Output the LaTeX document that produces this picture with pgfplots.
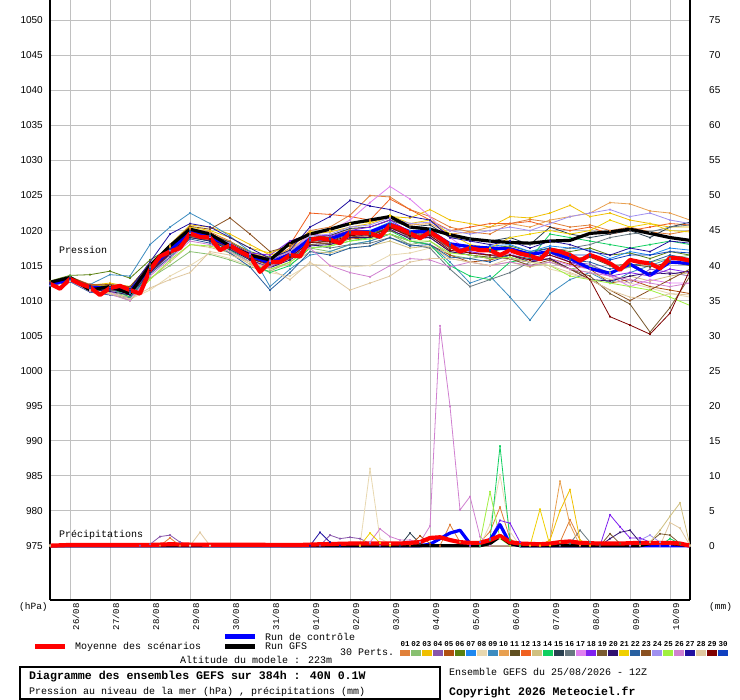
\documentclass[border=0pt]{standalone}
\usepackage{fontspec}
\setmainfont{Liberation Mono}
\newfontfamily\sansf{Liberation Sans}
\usepackage{pgfplots}
\pgfplotsset{compat=1.18}
\newcommand\fs[1]{\fontsize{#1bp}{#1bp}\selectfont}
\definecolor{c01}{HTML}{E0803A}
\definecolor{c02}{HTML}{88C070}
\definecolor{c03}{HTML}{F0C000}
\definecolor{c04}{HTML}{8855AA}
\definecolor{c05}{HTML}{B05010}
\definecolor{c06}{HTML}{5A8010}
\definecolor{c07}{HTML}{1E88F0}
\definecolor{c08}{HTML}{E8D8B0}
\definecolor{c09}{HTML}{3C8CC0}
\definecolor{c10}{HTML}{E8A050}
\definecolor{c11}{HTML}{604F20}
\definecolor{c12}{HTML}{F06020}
\definecolor{c13}{HTML}{D0C080}
\definecolor{c14}{HTML}{10D060}
\definecolor{c15}{HTML}{2A4050}
\definecolor{c16}{HTML}{687880}
\definecolor{c17}{HTML}{E080F0}
\definecolor{c18}{HTML}{8020F0}
\definecolor{c19}{HTML}{7A5A30}
\definecolor{c20}{HTML}{301070}
\definecolor{c21}{HTML}{F0D000}
\definecolor{c22}{HTML}{2860A0}
\definecolor{c23}{HTML}{8A5020}
\definecolor{c24}{HTML}{A090F0}
\definecolor{c25}{HTML}{A0F040}
\definecolor{c26}{HTML}{D080D0}
\definecolor{c27}{HTML}{2010A0}
\definecolor{c28}{HTML}{E0C8A0}
\definecolor{c29}{HTML}{800000}
\definecolor{c30}{HTML}{1040C0}
\definecolor{gridc}{HTML}{C0C0C0}
\pgfplotsset{
  pert/.style={line width=0.8bp, mark=*, mark size=0.7bp, line join=round},
  thickb/.style={line width=3.2bp, line join=round},
}
\begin{document}
\begin{tikzpicture}[x=1bp,y=1bp]
\useasboundingbox (0,0) rectangle (740,700);
\fill[white] (0,0) rectangle (740,700);
\begin{axis}[
  at={(50bp,100bp)}, anchor=south west, scale only axis,
  width=640bp, height=600bp,
  xmin=0, xmax=384, ymin=967.24, ymax=1052.93,
  axis x line*=bottom, axis y line*=left,
  axis line style={-, black, line width=1.3bp},
  xtick={12,36,60,84,108,132,156,180,204,228,252,276,300,324,348,372},
  xticklabels={26/08,27/08,28/08,29/08,30/08,31/08,01/09,02/09,03/09,04/09,05/09,06/09,07/09,08/09,09/09,10/09},
  ytick={975,980,985,990,995,1000,1005,1010,1015,1020,1025,1030,1035,1040,1045,1050},
  yticklabels={975,980,985,990,995,1000,1005,1010,1015,1020,1025,1030,1035,1040,1045,1050},
  major tick length=0pt,
  grid=major, major grid style={draw=gridc, line width=1bp},
  xticklabel style={font=\fs{9}, rotate=90, anchor=north east, inner xsep=3bp, inner ysep=2.5bp},
  yticklabel style={font=\sansf\fs{10}, anchor=east, inner sep=0pt, xshift=-7bp},
  /pgf/number format/assume math mode=true,
]
\addplot[pert,c01] coordinates {(0,1012.6)(12,1013.4)(24,1012.0)(36,1012.3)(48,1011.8)(60,1015.0)(72,1017.8)(84,1020.3)(96,1019.8)(108,1018.5)(120,1016.8)(132,1015.9)(144,1017.5)(156,1020.0)(168,1020.5)(180,1022.2)(192,1025.0)(204,1024.8)(216,1023.0)(228,1022.0)(240,1020.5)(252,1019.8)(264,1019.5)(276,1021.0)(288,1021.6)(300,1021.2)(312,1020.5)(324,1020.8)(336,1020.0)(348,1020.5)(360,1019.8)(372,1019.5)(384,1020.0)};
\addplot[pert,c02] coordinates {(0,1012.3)(12,1013.0)(24,1011.5)(36,1011.2)(48,1010.6)(60,1013.2)(72,1015.0)(84,1017.0)(96,1016.6)(108,1015.8)(120,1014.8)(132,1014.2)(144,1015.5)(156,1017.5)(168,1017.0)(180,1018.0)(192,1018.5)(204,1019.5)(216,1018.0)(228,1018.5)(240,1016.5)(252,1016.0)(264,1016.5)(276,1016.0)(288,1015.0)(300,1015.5)(312,1014.5)(324,1015.0)(336,1014.0)(348,1014.8)(360,1015.5)(372,1016.0)(384,1016.5)};
\addplot[pert,c03] coordinates {(0,1012.5)(12,1013.3)(24,1012.2)(36,1012.5)(48,1012.0)(60,1015.2)(72,1018.0)(84,1020.8)(96,1020.5)(108,1019.5)(120,1018.0)(132,1016.5)(144,1017.2)(156,1019.5)(168,1019.8)(180,1020.5)(192,1021.0)(204,1022.0)(216,1021.8)(228,1023.0)(240,1021.5)(252,1021.0)(264,1020.5)(276,1022.0)(288,1021.8)(300,1022.5)(312,1023.6)(324,1022.0)(336,1022.5)(348,1021.5)(360,1021.0)(372,1020.5)(384,1020.5)};
\addplot[pert,c04] coordinates {(0,1012.4)(12,1013.0)(24,1011.6)(36,1011.4)(48,1011.2)(60,1014.0)(72,1016.8)(84,1019.2)(96,1018.5)(108,1017.5)(120,1015.8)(132,1014.8)(144,1016.0)(156,1018.0)(168,1018.2)(180,1019.0)(192,1019.5)(204,1020.5)(216,1019.0)(228,1019.2)(240,1017.5)(252,1016.8)(264,1016.5)(276,1016.0)(288,1015.5)(300,1016.8)(312,1015.5)(324,1015.2)(336,1013.8)(348,1012.5)(360,1014.5)(372,1014.0)(384,1013.5)};
\addplot[pert,c05] coordinates {(0,1012.5)(12,1013.1)(24,1012.0)(36,1011.9)(48,1011.6)(60,1014.2)(72,1016.5)(84,1019.0)(96,1018.6)(108,1017.5)(120,1016.0)(132,1015.5)(144,1016.8)(156,1018.5)(168,1018.0)(180,1018.8)(192,1019.0)(204,1019.5)(216,1018.5)(228,1018.0)(240,1016.5)(252,1015.5)(264,1015.8)(276,1016.5)(288,1015.8)(300,1016.0)(312,1015.2)(324,1014.5)(336,1012.5)(348,1013.0)(360,1012.0)(372,1011.5)(384,1011.0)};
\addplot[pert,c06] coordinates {(0,1012.8)(12,1013.6)(24,1013.7)(36,1014.2)(48,1013.2)(60,1015.8)(72,1017.5)(84,1019.5)(96,1019.2)(108,1018.4)(120,1017.0)(132,1016.2)(144,1017.0)(156,1018.8)(168,1019.0)(180,1019.8)(192,1019.5)(204,1020.5)(216,1019.5)(228,1019.8)(240,1018.0)(252,1017.8)(264,1017.5)(276,1017.8)(288,1017.0)(300,1017.5)(312,1017.0)(324,1017.5)(336,1016.5)(348,1016.8)(360,1016.0)(372,1017.0)(384,1016.5)};
\addplot[pert,c07] coordinates {(0,1012.2)(12,1012.9)(24,1011.7)(36,1011.5)(48,1011.0)(60,1014.6)(72,1017.2)(84,1019.8)(96,1019.4)(108,1018.0)(120,1016.6)(132,1015.3)(144,1016.2)(156,1018.5)(168,1018.8)(180,1020.0)(192,1020.0)(204,1021.2)(216,1020.0)(228,1020.2)(240,1018.2)(252,1017.5)(264,1017.8)(276,1018.0)(288,1017.0)(300,1017.8)(312,1017.5)(324,1017.2)(336,1016.0)(348,1017.0)(360,1016.5)(372,1017.5)(384,1017.2)};
\addplot[pert,c08] coordinates {(0,1012.3)(12,1012.8)(24,1011.4)(36,1011.2)(48,1010.2)(60,1011.5)(72,1013.5)(84,1015.0)(96,1016.8)(108,1016.0)(120,1015.0)(132,1014.0)(144,1013.5)(156,1015.2)(168,1015.0)(180,1014.8)(192,1015.0)(204,1016.5)(216,1016.8)(228,1017.5)(240,1016.8)(252,1016.5)(264,1016.0)(276,1016.5)(288,1016.0)(300,1014.5)(312,1013.8)(324,1013.0)(336,1012.8)(348,1012.5)(360,1011.8)(372,1011.0)(384,1010.5)};
\addplot[pert,c09] coordinates {(0,1012.5)(12,1013.2)(24,1012.3)(36,1013.7)(48,1013.5)(60,1018.0)(72,1020.5)(84,1022.5)(96,1021.0)(108,1019.2)(120,1017.0)(132,1012.0)(144,1014.5)(156,1016.5)(168,1017.0)(180,1018.0)(192,1018.5)(204,1019.5)(216,1018.5)(228,1018.0)(240,1015.5)(252,1012.5)(264,1013.5)(276,1010.5)(288,1007.2)(300,1011.0)(312,1013.0)(324,1014.0)(336,1012.5)(348,1014.0)(360,1015.0)(372,1016.0)(384,1015.5)};
\addplot[pert,c10] coordinates {(0,1012.4)(12,1013.2)(24,1012.1)(36,1012.0)(48,1011.8)(60,1014.8)(72,1017.5)(84,1020.0)(96,1019.6)(108,1018.4)(120,1016.8)(132,1016.0)(144,1017.0)(156,1019.0)(168,1019.3)(180,1020.2)(192,1020.5)(204,1021.5)(216,1020.8)(228,1021.0)(240,1019.5)(252,1019.8)(264,1020.5)(276,1021.0)(288,1020.5)(300,1021.5)(312,1022.0)(324,1022.5)(336,1024.0)(348,1023.8)(360,1022.8)(372,1022.5)(384,1021.5)};
\addplot[pert,c11] coordinates {(0,1012.3)(12,1013.0)(24,1011.8)(36,1011.6)(48,1011.4)(60,1014.2)(72,1016.8)(84,1019.3)(96,1018.8)(108,1017.6)(120,1016.0)(132,1015.2)(144,1016.3)(156,1018.3)(168,1018.5)(180,1019.5)(192,1019.3)(204,1020.5)(216,1019.3)(228,1019.5)(240,1017.8)(252,1017.2)(264,1017.0)(276,1017.5)(288,1016.5)(300,1017.0)(312,1016.0)(324,1016.2)(336,1015.0)(348,1015.2)(360,1014.8)(372,1015.5)(384,1015.0)};
\addplot[pert,c12] coordinates {(0,1012.6)(12,1013.4)(24,1012.3)(36,1012.2)(48,1011.9)(60,1015.0)(72,1017.6)(84,1020.2)(96,1019.5)(108,1018.2)(120,1016.7)(132,1016.0)(144,1018.0)(156,1022.5)(168,1022.3)(180,1022.0)(192,1021.5)(204,1024.5)(216,1023.0)(228,1021.5)(240,1020.0)(252,1020.5)(264,1021.0)(276,1021.0)(288,1021.3)(300,1020.5)(312,1020.0)(324,1020.5)(336,1019.5)(348,1020.0)(360,1020.5)(372,1021.0)(384,1020.8)};
\addplot[pert,c13] coordinates {(0,1012.2)(12,1012.8)(24,1011.5)(36,1011.0)(48,1010.5)(60,1013.0)(72,1015.5)(84,1018.0)(96,1017.6)(108,1016.8)(120,1015.2)(132,1014.5)(144,1015.2)(156,1017.0)(168,1016.8)(180,1017.5)(192,1017.8)(204,1018.5)(216,1017.5)(228,1017.8)(240,1016.0)(252,1015.5)(264,1015.0)(276,1015.5)(288,1014.8)(300,1015.5)(312,1014.5)(324,1014.0)(336,1013.0)(348,1013.5)(360,1012.8)(372,1013.5)(384,1014.0)};
\addplot[pert,c14] coordinates {(0,1012.5)(12,1013.5)(24,1012.0)(36,1011.8)(48,1010.5)(60,1014.0)(72,1016.5)(84,1019.0)(96,1018.5)(108,1017.2)(120,1015.5)(132,1014.0)(144,1015.0)(156,1017.5)(168,1017.8)(180,1018.5)(192,1019.0)(204,1020.0)(216,1018.5)(228,1018.0)(240,1015.0)(252,1013.5)(264,1013.0)(276,1015.5)(288,1016.0)(300,1019.5)(312,1019.0)(324,1018.5)(336,1018.0)(348,1017.5)(360,1018.0)(372,1018.5)(384,1018.0)};
\addplot[pert,c15] coordinates {(0,1012.4)(12,1013.1)(24,1012.0)(36,1012.1)(48,1011.8)(60,1015.0)(72,1017.4)(84,1020.0)(96,1019.5)(108,1018.3)(120,1016.7)(132,1015.8)(144,1016.8)(156,1019.0)(168,1019.3)(180,1020.3)(192,1020.5)(204,1021.5)(216,1020.5)(228,1020.8)(240,1019.0)(252,1018.8)(264,1018.5)(276,1019.0)(288,1018.0)(300,1020.5)(312,1019.5)(324,1019.0)(336,1019.5)(348,1020.0)(360,1019.0)(372,1020.5)(384,1021.2)};
\addplot[pert,c16] coordinates {(0,1012.4)(12,1013.0)(24,1011.9)(36,1011.7)(48,1011.3)(60,1014.3)(72,1016.9)(84,1019.4)(96,1018.9)(108,1017.7)(120,1016.2)(132,1015.3)(144,1016.3)(156,1018.0)(168,1017.5)(180,1018.0)(192,1018.2)(204,1019.0)(216,1018.0)(228,1017.5)(240,1014.5)(252,1012.0)(264,1013.0)(276,1014.0)(288,1015.5)(300,1017.0)(312,1017.5)(324,1018.0)(336,1019.0)(348,1019.5)(360,1019.8)(372,1020.5)(384,1020.8)};
\addplot[pert,c17] coordinates {(0,1012.3)(12,1013.0)(24,1011.7)(36,1011.3)(48,1010.0)(60,1013.8)(72,1016.5)(84,1019.5)(96,1019.0)(108,1018.0)(120,1016.5)(132,1015.5)(144,1017.0)(156,1019.5)(168,1020.0)(180,1021.5)(192,1024.0)(204,1026.3)(216,1024.5)(228,1022.0)(240,1019.0)(252,1017.0)(264,1016.5)(276,1016.8)(288,1015.5)(300,1016.0)(312,1015.0)(324,1014.5)(336,1013.5)(348,1012.0)(360,1013.0)(372,1012.5)(384,1012.5)};
\addplot[pert,c18] coordinates {(0,1012.5)(12,1013.2)(24,1011.8)(36,1011.6)(48,1011.2)(60,1014.5)(72,1017.2)(84,1019.8)(96,1019.2)(108,1018.0)(120,1016.8)(132,1016.5)(144,1018.5)(156,1019.5)(168,1019.2)(180,1020.0)(192,1020.5)(204,1021.5)(216,1019.8)(228,1019.5)(240,1018.0)(252,1017.0)(264,1016.5)(276,1016.0)(288,1015.5)(300,1016.5)(312,1015.5)(324,1014.5)(336,1013.5)(348,1014.0)(360,1013.5)(372,1014.5)(384,1014.0)};
\addplot[pert,c19] coordinates {(0,1012.4)(12,1013.1)(24,1011.8)(36,1011.5)(48,1011.2)(60,1014.0)(72,1016.6)(84,1019.2)(96,1018.7)(108,1017.5)(120,1016.0)(132,1015.0)(144,1016.0)(156,1018.0)(168,1018.2)(180,1019.2)(192,1019.0)(204,1020.0)(216,1019.0)(228,1019.0)(240,1017.0)(252,1016.5)(264,1016.2)(276,1016.0)(288,1015.5)(300,1016.0)(312,1014.5)(324,1013.5)(336,1011.0)(348,1009.5)(360,1005.5)(372,1009.0)(384,1013.5)};
\addplot[pert,c20] coordinates {(0,1012.3)(12,1012.9)(24,1011.6)(36,1011.3)(48,1010.8)(60,1014.0)(72,1016.7)(84,1019.0)(96,1018.5)(108,1017.3)(120,1015.8)(132,1014.7)(144,1015.8)(156,1017.8)(168,1018.0)(180,1019.0)(192,1019.0)(204,1020.2)(216,1018.8)(228,1019.0)(240,1017.0)(252,1016.5)(264,1016.0)(276,1016.5)(288,1015.5)(300,1016.0)(312,1014.5)(324,1013.0)(336,1012.8)(348,1013.5)(360,1014.0)(372,1013.8)(384,1014.2)};
\addplot[pert,c21] coordinates {(0,1012.6)(12,1013.3)(24,1012.1)(36,1012.2)(48,1011.9)(60,1015.2)(72,1017.8)(84,1020.5)(96,1020.0)(108,1019.0)(120,1017.5)(132,1016.8)(144,1017.8)(156,1019.8)(168,1020.0)(180,1021.0)(192,1021.2)(204,1022.2)(216,1021.0)(228,1021.5)(240,1019.5)(252,1018.0)(264,1017.5)(276,1019.0)(288,1019.5)(300,1020.0)(312,1019.5)(324,1020.0)(336,1021.5)(348,1020.5)(360,1021.0)(372,1020.0)(384,1019.8)};
\addplot[pert,c22] coordinates {(0,1012.1)(12,1012.7)(24,1011.2)(36,1010.8)(48,1010.4)(60,1013.8)(72,1016.2)(84,1018.8)(96,1018.2)(108,1016.8)(120,1014.8)(132,1011.5)(144,1014.0)(156,1017.0)(168,1016.5)(180,1017.5)(192,1017.8)(204,1019.0)(216,1017.8)(228,1018.0)(240,1016.2)(252,1016.0)(264,1015.5)(276,1016.5)(288,1016.0)(300,1016.8)(312,1015.8)(324,1015.5)(336,1014.5)(348,1015.0)(360,1015.5)(372,1016.5)(384,1016.0)};
\addplot[pert,c23] coordinates {(0,1012.7)(12,1013.4)(24,1012.2)(36,1012.3)(48,1012.0)(60,1015.2)(72,1018.0)(84,1020.6)(96,1020.2)(108,1021.8)(120,1019.5)(132,1017.0)(144,1017.8)(156,1019.5)(168,1019.0)(180,1020.0)(192,1019.8)(204,1020.8)(216,1019.5)(228,1019.5)(240,1017.5)(252,1016.8)(264,1016.5)(276,1016.0)(288,1015.0)(300,1015.8)(312,1014.5)(324,1013.0)(336,1011.5)(348,1010.0)(360,1011.5)(372,1013.0)(384,1014.5)};
\addplot[pert,c24] coordinates {(0,1012.4)(12,1013.2)(24,1012.0)(36,1011.9)(48,1011.7)(60,1014.6)(72,1017.2)(84,1019.7)(96,1019.2)(108,1018.2)(120,1016.6)(132,1015.8)(144,1017.0)(156,1019.2)(168,1019.5)(180,1020.5)(192,1020.8)(204,1021.8)(216,1021.0)(228,1021.2)(240,1020.0)(252,1019.5)(264,1020.0)(276,1020.5)(288,1020.0)(300,1021.0)(312,1022.0)(324,1022.5)(336,1023.0)(348,1022.0)(360,1022.5)(372,1021.5)(384,1021.0)};
\addplot[pert,c25] coordinates {(0,1012.3)(12,1012.9)(24,1011.4)(36,1011.0)(48,1010.0)(60,1013.0)(72,1015.8)(84,1018.0)(96,1017.8)(108,1017.0)(120,1015.5)(132,1014.5)(144,1015.5)(156,1017.5)(168,1017.8)(180,1018.5)(192,1018.8)(204,1019.5)(216,1018.5)(228,1018.5)(240,1016.8)(252,1016.5)(264,1016.0)(276,1016.2)(288,1015.5)(300,1015.0)(312,1013.5)(324,1013.0)(336,1012.5)(348,1012.0)(360,1011.5)(372,1010.5)(384,1009.3)};
\addplot[pert,c26] coordinates {(0,1012.2)(12,1012.8)(24,1011.3)(36,1010.9)(48,1010.0)(60,1013.5)(72,1016.0)(84,1018.5)(96,1018.0)(108,1017.0)(120,1015.5)(132,1014.8)(144,1016.8)(156,1017.5)(168,1015.0)(180,1014.0)(192,1013.4)(204,1015.0)(216,1016.0)(228,1015.8)(240,1014.8)(252,1015.5)(264,1015.0)(276,1015.5)(288,1015.0)(300,1015.5)(312,1014.5)(324,1014.0)(336,1013.5)(348,1013.0)(360,1012.5)(372,1012.0)(384,1012.5)};
\addplot[pert,c27] coordinates {(0,1012.5)(12,1013.2)(24,1012.1)(36,1012.0)(48,1011.7)(60,1015.5)(72,1019.5)(84,1021.0)(96,1020.5)(108,1019.0)(120,1017.5)(132,1016.0)(144,1017.2)(156,1020.5)(168,1022.0)(180,1024.3)(192,1023.5)(204,1023.0)(216,1022.0)(228,1021.5)(240,1019.0)(252,1018.5)(264,1018.0)(276,1018.5)(288,1017.5)(300,1018.5)(312,1018.0)(324,1017.0)(336,1016.5)(348,1017.5)(360,1017.0)(372,1018.5)(384,1018.2)};
\addplot[pert,c28] coordinates {(0,1012.3)(12,1012.8)(24,1011.5)(36,1011.0)(48,1010.3)(60,1011.8)(72,1013.0)(84,1014.0)(96,1017.0)(108,1016.5)(120,1015.5)(132,1014.5)(144,1013.0)(156,1015.5)(168,1013.5)(180,1011.5)(192,1012.5)(204,1013.5)(216,1015.5)(228,1016.0)(240,1016.0)(252,1015.5)(264,1015.0)(276,1016.0)(288,1015.5)(300,1015.0)(312,1014.0)(324,1013.0)(336,1011.5)(348,1010.5)(360,1010.2)(372,1011.0)(384,1010.8)};
\addplot[pert,c29] coordinates {(0,1012.4)(12,1013.1)(24,1011.9)(36,1011.7)(48,1011.4)(60,1014.3)(72,1016.8)(84,1019.4)(96,1018.8)(108,1017.6)(120,1016.0)(132,1015.2)(144,1016.2)(156,1018.3)(168,1018.4)(180,1019.3)(192,1019.2)(204,1020.4)(216,1019.2)(228,1019.3)(240,1017.2)(252,1016.8)(264,1016.5)(276,1016.5)(288,1015.8)(300,1016.5)(312,1015.5)(324,1013.0)(336,1007.7)(348,1006.5)(360,1005.2)(372,1008.2)(384,1014.4)};
\addplot[pert,c30] coordinates {(0,1012.3)(12,1013.0)(24,1011.8)(36,1011.6)(48,1011.3)(60,1014.6)(72,1017.3)(84,1019.8)(96,1019.2)(108,1018.0)(120,1016.4)(132,1015.4)(144,1016.5)(156,1018.7)(168,1018.8)(180,1019.8)(192,1019.6)(204,1020.9)(216,1019.8)(228,1020.0)(240,1018.0)(252,1017.5)(264,1017.2)(276,1017.5)(288,1016.8)(300,1017.5)(312,1016.5)(324,1016.5)(336,1015.8)(348,1016.5)(360,1016.5)(372,1017.0)(384,1016.8)};
% control run
\addplot[thickb,blue] coordinates {(0,1012.3)(12,1013.0)(24,1011.8)(36,1011.9)(48,1011.3)(60,1014.6)(72,1017.2)(84,1019.8)(96,1019.1)(108,1017.8)(120,1016.4)(132,1015.4)(144,1016.6)(156,1018.8)(168,1018.8)(180,1019.8)(192,1019.8)(204,1020.9)(216,1019.8)(228,1019.9)(240,1018.1)(252,1017.7)(264,1017.5)(276,1017.4)(288,1016.6)(300,1017.0)(312,1016.0)(324,1014.6)(336,1013.9)(348,1015.2)(360,1013.6)(372,1015.5)(384,1015.3)};
% GFS run
\addplot[thickb,black] coordinates {(0,1012.6)(12,1013.3)(24,1011.5)(36,1012.0)(48,1011.0)(60,1015.0)(72,1017.8)(84,1020.2)(96,1019.5)(108,1017.8)(120,1016.5)(132,1015.8)(144,1018.2)(156,1019.5)(168,1020.2)(180,1021.0)(192,1021.5)(204,1022.0)(216,1020.5)(228,1020.2)(240,1019.4)(252,1018.8)(264,1018.5)(276,1018.3)(288,1018.2)(300,1018.5)(312,1018.6)(324,1019.6)(336,1019.8)(348,1020.2)(360,1019.6)(372,1019.0)(384,1018.6)};
% ensemble mean
\addplot[line width=4.2bp,red,line join=round] coordinates {(0,1012.4)(6,1011.7)(12,1013.1)(18,1012.4)(24,1011.9)(30,1010.8)(36,1011.8)(42,1012.1)(48,1011.5)(54,1011.0)(60,1014.4)(66,1016.3)(72,1017.0)(78,1017.5)(84,1019.6)(90,1019.1)(96,1019.0)(102,1017.2)(108,1017.9)(114,1017.0)(120,1016.3)(126,1014.1)(132,1015.5)(138,1015.5)(144,1016.5)(150,1016.3)(156,1018.7)(162,1018.9)(168,1018.7)(174,1018.2)(180,1019.7)(186,1019.7)(192,1019.6)(198,1019.1)(204,1020.8)(210,1020.3)(216,1019.6)(222,1018.9)(228,1019.8)(234,1018.9)(240,1017.9)(246,1017.0)(252,1017.5)(258,1017.2)(264,1017.2)(270,1016.5)(276,1017.2)(282,1016.7)(288,1016.4)(294,1015.9)(300,1017.3)(306,1017.0)(312,1016.5)(318,1015.7)(324,1016.5)(330,1016.0)(336,1015.3)(342,1014.4)(348,1015.8)(354,1015.5)(360,1015.3)(366,1014.6)(372,1016.1)(378,1016.0)(384,1015.7)};
\draw[black, line width=1bp] (axis cs:0,1016.07) -- ++(-2.5bp,0);
\end{axis}
\begin{axis}[
  at={(50bp,100bp)}, anchor=south west, scale only axis,
  width=640bp, height=600bp,
  xmin=0, xmax=384, ymin=-7.76, ymax=77.93,
  axis x line=none, axis y line*=right,
  axis line style={-, black, line width=1.3bp},
  xtick=\empty,
  ytick={0,5,10,15,20,25,30,35,40,45,50,55,60,65,70,75},
  yticklabels={0,5,10,15,20,25,30,35,40,45,50,55,60,65,70,75},
  major tick length=0pt,
  yticklabel style={font=\sansf\fs{10}, anchor=west, inner sep=0pt, xshift=19bp},
  /pgf/number format/assume math mode=true,
]
\addplot[pert,c04] coordinates {(0,0)(54,0)(60,0.2)(66,1.3)(72,1.5)(78,0.5)(84,0)(162,0)(168,1.5)(174,1.0)(180,1.2)(186,1.0)(192,0.3)(198,0)(384,0)};
\addplot[pert,c01] coordinates {(0,0)(66,0)(72,1.1)(78,0)(234,0)(240,3.0)(246,0.5)(252,0)(258,0.5)(264,2.0)(270,5.5)(276,1.0)(282,0)(306,0.5)(312,3.7)(318,0.8)(324,0)(384,0)};
\addplot[pert,c28] coordinates {(0,0)(84,0)(90,1.9)(96,0)(366,0)(372,3.3)(378,2.5)(384,0)};
\addplot[pert,c08] coordinates {(0,0)(186,0)(192,11.0)(198,1.0)(204,0.3)(258,0)(264,3.0)(270,10.1)(276,2.0)(282,0)(384,0)};
\addplot[pert,c27] coordinates {(0,0)(156,0)(162,1.9)(168,0.5)(174,0)(384,0)};
\addplot[pert,c26] coordinates {(0,0)(186,0)(192,0.5)(198,2.4)(204,1.3)(210,0.8)(216,0.8)(222,0.5)(228,2.8)(234,31.4)(240,19.9)(246,5.1)(252,7.0)(258,1.3)(264,0)(384,0)};
\addplot[pert,c14] coordinates {(0,0)(258,0)(264,0.8)(270,14.2)(276,0.8)(282,0)(366,0)(372,1.0)(378,0.3)(384,0)};
\addplot[pert,c25] coordinates {(0,0)(252,0)(258,0.5)(264,7.7)(270,1.0)(276,0)(384,0)};
\addplot[pert,c18] coordinates {(0,0)(252,0)(258,0.5)(264,1.0)(270,3.6)(276,3.2)(282,0.5)(288,0)(330,0)(336,4.4)(342,2.7)(348,1.1)(354,1.1)(360,0.5)(366,0)(384,0)};
\addplot[pert,c15] coordinates {(0,0)(210,0)(216,1.8)(222,0.3)(228,0)(384,0)};
\addplot[pert,c16] coordinates {(0,0)(306,0)(312,0.3)(318,2.2)(324,0.5)(330,0)(384,0)};
\addplot[pert,c05] coordinates {(0,0)(216,0)(222,1.4)(228,0.3)(234,0)(384,0)};
\addplot[pert,c21] coordinates {(0,0)(186,0)(192,1.8)(198,0.4)(204,0)(288,0)(294,5.2)(300,0)(384,0)};
\addplot[pert,c10] coordinates {(0,0)(294,0)(300,0.8)(306,9.2)(312,3.0)(318,0)(384,0)};
\addplot[pert,c03] coordinates {(0,0)(294,0)(300,0.8)(306,5.0)(312,8.0)(318,0.8)(324,0)(384,0)};
\addplot[pert,c20] coordinates {(0,0)(330,0)(336,1.0)(342,1.9)(348,2.2)(354,0.5)(360,0)(384,0)};
\addplot[pert,c19] coordinates {(0,0)(330,0)(336,1.7)(342,0.3)(354,0.3)(360,0.5)(366,1.7)(372,1.5)(378,0.3)(384,0)};
\addplot[pert,c24] coordinates {(0,0)(348,0)(354,0.8)(360,1.5)(366,0.5)(372,0)(384,0)};
\addplot[pert,c13] coordinates {(0,0)(354,0)(360,0.5)(366,2.2)(372,4.2)(378,6.1)(384,0)};
\addplot[thickb,blue] coordinates {(0,0)(222,0)(228,0.2)(234,1.0)(240,1.8)(246,2.2)(252,0.3)(258,0)(264,0.8)(270,3.0)(276,0.3)(282,0)(384,0)};
\addplot[thickb,black] coordinates {(0,0)(258,0)(264,0.3)(270,1.3)(276,0.3)(282,0)(354,0)(360,0.3)(372,0.3)(384,0)};
\addplot[line width=4.2bp,red,line join=round] coordinates {(0,0)(12,0.1)(60,0.1)(72,0.2)(84,0.15)(150,0.1)(162,0.2)(180,0.3)(192,0.3)(210,0.3)(222,0.5)(228,1.1)(234,1.2)(240,0.8)(246,0.5)(252,0.4)(258,0.4)(264,0.8)(270,1.4)(276,0.5)(282,0.3)(294,0.2)(300,0.3)(306,0.5)(312,0.6)(318,0.4)(330,0.3)(342,0.3)(354,0.4)(366,0.4)(372,0.4)(378,0.3)(384,0)};
\end{axis}
% annotations
\node[anchor=west, inner sep=0pt, font=\fs{10}] at (59,450) {Pression};
\node[anchor=west, inner sep=0pt, font=\fs{10}] at (59,165) {Précipitations};
\node[anchor=west, inner sep=0pt, font=\fs{9.5}] at (19,93) {(hPa)};
\node[anchor=west, inner sep=0pt, font=\fs{9.5}] at (709,93) {(mm)};
% legend
\draw[red, line width=4.5bp] (35,53.3) -- (65,53.3);
\node[anchor=west, inner sep=0pt, font=\fs{10}] at (75,53.3) {Moyenne des scénarios};
\draw[blue, line width=4.5bp] (225,63.3) -- (255,63.3);
\node[anchor=west, inner sep=0pt, font=\fs{10}] at (265,63.3) {Run de contrôle};
\draw[black, line width=4.5bp] (225,53.3) -- (255,53.3);
\node[anchor=west, inner sep=0pt, font=\fs{10}] at (265,53.3) {Run GFS};
\node[anchor=west, inner sep=0pt, font=\fs{10}] at (180,40) {Altitude du modele : 223m};
\node[anchor=west, inner sep=0pt, font=\fs{10}] at (340,48) {30 Perts.};
\foreach \n [count=\k from 0] in {01,02,03,04,05,06,07,08,09,10,11,12,13,14,15,16,17,18,19,20,21,22,23,24,25,26,27,28,29,30}{
  \pgfmathsetmacro\xx{400+10.97*\k}
  \fill[c\n] (\xx,44) rectangle ++(10,6);
  \node[inner sep=0pt, font=\fs{7.5}\bfseries] at (\xx+5,56.3) {\n};
}
\draw[black, line width=1.3bp] (20,1) rectangle (440,33);
\node[anchor=west, inner sep=0pt, font=\fs{11.6}\bfseries] at (29,23.3) {Diagramme des ensembles GEFS sur 384h : 40N 0.1W};
\node[anchor=west, inner sep=0pt, font=\fs{10}] at (29,7.7) {Pression au niveau de la mer (hPa) , précipitations (mm)};
\node[anchor=west, inner sep=0pt, font=\fs{10}] at (449,27.7) {Ensemble GEFS du 25/08/2026 - 12Z};
\node[anchor=west, inner sep=0pt, font=\fs{11.5}\bfseries] at (449,7.7) {Copyright 2026 Meteociel.fr};
\end{tikzpicture}
\end{document}
